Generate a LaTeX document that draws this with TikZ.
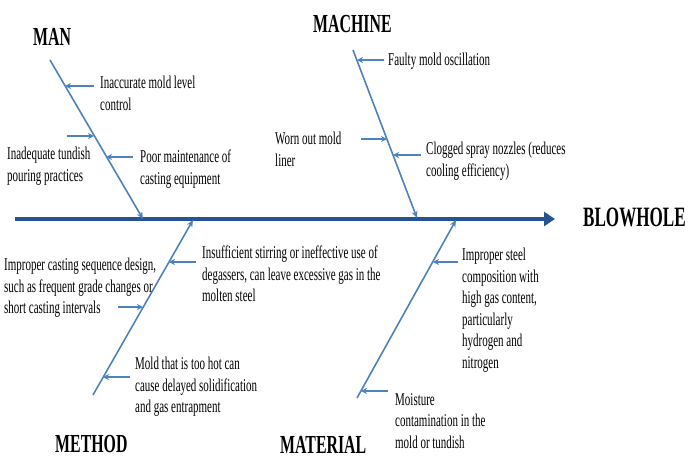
\documentclass[tikz,border=0pt]{standalone}
\usepackage{fontspec}
\setmainfont{Liberation Serif}[FakeStretch=0.61]
\usetikzlibrary{arrows.meta}
\definecolor{bone}{RGB}{79,129,189}
\definecolor{spinec}{RGB}{38,84,145}
\begin{document}
\begin{tikzpicture}[x=1pt,y=-1pt,
  bonel/.style={draw=bone,line width=1.6pt,-{Stealth[length=7pt,width=6pt]}},
  causearr/.style={draw=bone,line width=1.6pt,-{Stealth[length=6pt,width=6pt]}},
  cause/.style={anchor=north west,inner sep=0pt,align=left,font=\fontsize{18}{21.5}\selectfont},
  cat/.style={anchor=north west,inner sep=0pt,font=\fontsize{26}{28}\selectfont\bfseries}]
\useasboundingbox (0,0) rectangle (689,459);
% spine
\coordinate (tail) at (15,219);
\node[anchor=north west,inner sep=0pt,font=\fontsize{28}{30}\selectfont\bfseries] (effect) at (583,208) {BLOWHOLE};
\coordinate (head) at (555,219);
\draw[draw=spinec,line width=4.5pt,-{Triangle[length=11pt,width=14pt]}] (tail) -- (head);
% category labels
\node[cat] (man) at (33,28) {MAN};
\node[cat] (machine) at (313,15) {MACHINE};
\node[cat] (method) at (55,435) {METHOD};
\node[cat] (material) at (280,436) {MATERIAL};
% bones
\coordinate (manA) at (50,60);   \coordinate (manB) at (143,219);
\coordinate (macA) at (353,50);  \coordinate (macB) at (417,218);
\coordinate (metA) at (93,395);  \coordinate (metB) at (193,220);
\coordinate (matA) at (357,398); \coordinate (matB) at (456,220);
\draw[bonel] (manA) -- (manB);
\draw[bonel] (macA) -- (macB);
\draw[bonel] (metA) -- (metB);
\draw[bonel] (matA) -- (matB);
% MAN causes
\node[cause] (c1) at (100,76) {Inaccurate mold level\\control};
\node[cause] (c2) at (7,147) {Inadequate tundish\\pouring practices};
\node[cause] (c3) at (140,150) {Poor maintenance of\\casting equipment};
\coordinate (s1) at (94,86);  \coordinate (t1) at (65,86);
\coordinate (s2) at (67,136); \coordinate (t2) at (94,136);
\coordinate (s3) at (133,157); \coordinate (t3) at (106,157);
\draw[causearr] (s1) -- (t1);
\draw[causearr] (s2) -- (t2);
\draw[causearr] (s3) -- (t3);
% MACHINE causes
\node[cause] (c4) at (388,53) {Faulty mold oscillation};
\node[cause] (c5) at (275,132) {Worn out mold\\liner};
\node[cause] (c6) at (426,142) {Clogged spray nozzles (reduces\\cooling efficiency)};
\coordinate (s4) at (384,60);  \coordinate (t4) at (357,60);
\coordinate (s5) at (361,139); \coordinate (t5) at (387,139);
\coordinate (s6) at (421,155); \coordinate (t6) at (393,155);
\draw[causearr] (s4) -- (t4);
\draw[causearr] (s5) -- (t5);
\draw[causearr] (s6) -- (t6);
% METHOD causes
\node[cause] (c7) at (202,246) {Insufficient stirring or ineffective use of\\degassers, can leave excessive gas in the\\molten steel};
\node[cause] (c8) at (4,258) {Improper casting sequence design,\\such as frequent grade changes or\\short casting intervals};
\node[cause] (c9) at (135,357) {Mold that is too hot can\\cause delayed solidification\\and gas entrapment};
\coordinate (s7) at (196,262); \coordinate (t7) at (169,262);
\coordinate (s8) at (118,307); \coordinate (t8) at (143,307);
\coordinate (s9) at (130,377); \coordinate (t9) at (103,377);
\draw[causearr] (s7) -- (t7);
\draw[causearr] (s8) -- (t8);
\draw[causearr] (s9) -- (t9);
% MATERIAL causes
\node[cause] (c10) at (462,248) {Improper steel\\composition with\\high gas content,\\particularly\\hydrogen and\\nitrogen};
\node[cause] (c11) at (395,393) {Moisture\\contamination in the\\mold or tundish};
\coordinate (s10) at (458,262); \coordinate (t10) at (433,262);
\coordinate (s11) at (388,391); \coordinate (t11) at (361,391);
\draw[causearr] (s10) -- (t10);
\draw[causearr] (s11) -- (t11);
\end{tikzpicture}
\end{document}
